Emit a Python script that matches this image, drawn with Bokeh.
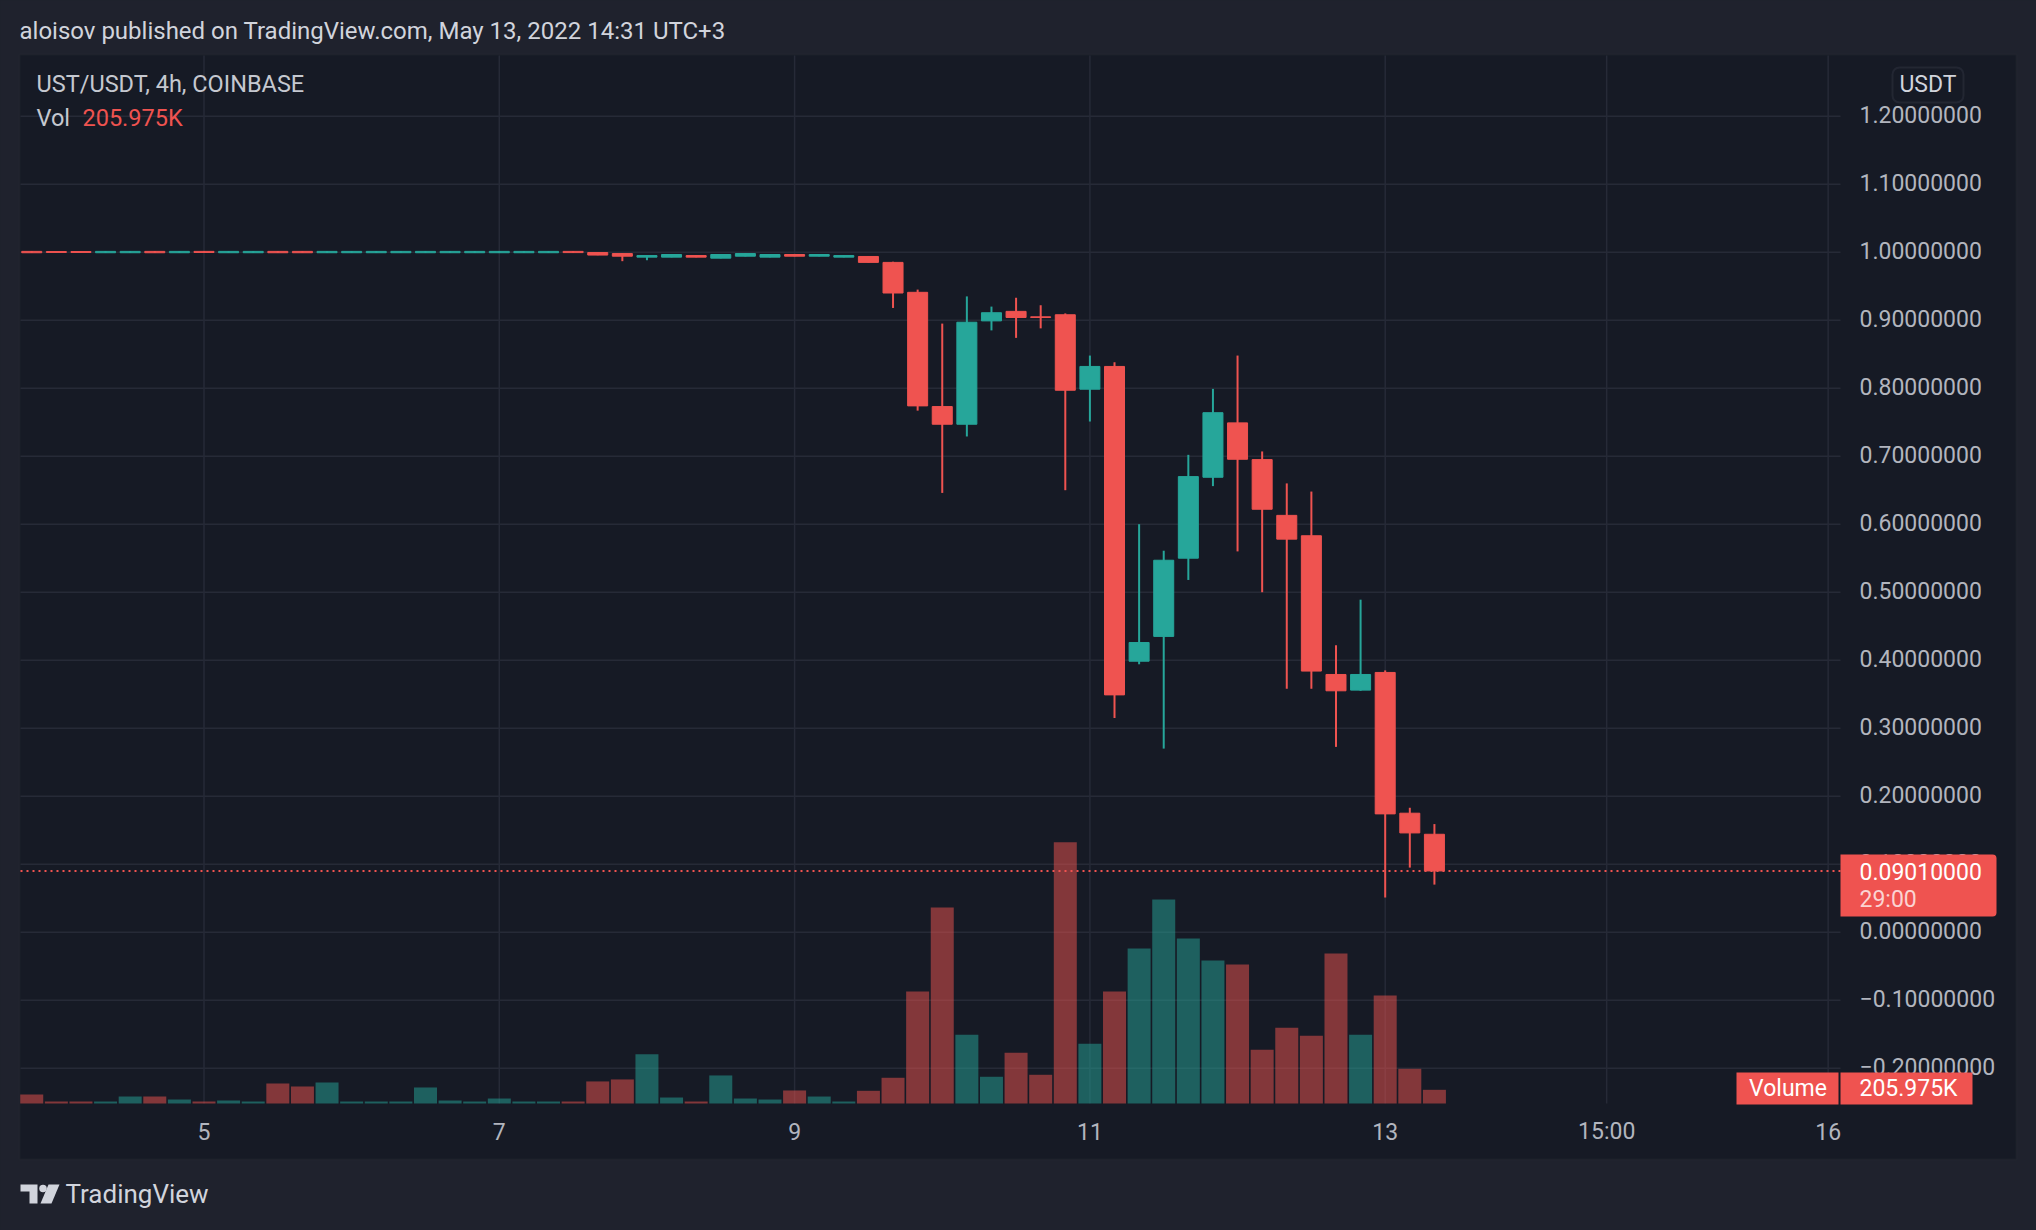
import pandas as pd
from bokeh.plotting import figure
from bokeh.core.properties import value
from bokeh.models import (ColumnDataSource, Range1d, Label, BoxAnnotation,
                          GlobalInlineStyleSheet)
from bokeh.embed import file_html
from bokeh.resources import INLINE

# ---------------- data (UST/USDT 4h, COINBASE) ----------------
start_time = "2022-05-03 20:00"

open_ = [1.0012, 1.0010, 1.0010, 0.9992, 0.9992, 1.0012, 0.9992, 1.0012, 0.9992, 0.9992,
         1.0012, 1.0012, 0.9992, 0.9992, 0.9992, 0.9992, 0.9992, 0.9992, 0.9992, 0.9992,
         0.9992, 0.9992, 1.0012, 0.9995, 0.9980, 0.9927, 0.9927, 0.9951, 0.9912, 0.9941,
         0.9927, 0.9966, 0.9941, 0.9927, 0.9937, 0.9850, 0.9410, 0.7730, 0.7470, 0.8990,
         0.9130, 0.9050, 0.9080, 0.7985, 0.8320, 0.3985, 0.4350, 0.5500, 0.6690, 0.7490,
         0.6950, 0.6130, 0.5830, 0.3790, 0.3560, 0.3820, 0.1750, 0.1440]
high = [1.0018, 1.0012, 1.0012, 1.0016, 1.0016, 1.0016, 1.0016, 1.0014, 1.0016, 1.0016,
        1.0016, 1.0016, 1.0016, 1.0016, 1.0016, 1.0016, 1.0016, 1.0016, 1.0016, 1.0016,
        1.0016, 1.0016, 1.0016, 0.9996, 0.9981, 0.9953, 0.9968, 0.9953, 0.9968, 0.9985,
        0.9970, 0.9968, 0.9968, 0.9953, 0.9940, 0.9860, 0.9450, 0.8950, 0.9350, 0.9200,
        0.9330, 0.9220, 0.9100, 0.8480, 0.8380, 0.6000, 0.5610, 0.7020, 0.7990, 0.8480,
        0.7070, 0.6600, 0.6480, 0.4220, 0.4890, 0.3850, 0.1830, 0.1590]
low = [0.9990, 0.9995, 0.9995, 0.9988, 0.9988, 0.9988, 0.9988, 0.9994, 0.9988, 0.9988,
       0.9988, 0.9988, 0.9988, 0.9988, 0.9988, 0.9988, 0.9988, 0.9988, 0.9988, 0.9988,
       0.9988, 0.9988, 0.9990, 0.9956, 0.9868, 0.9882, 0.9925, 0.9925, 0.9910, 0.9938,
       0.9925, 0.9939, 0.9939, 0.9925, 0.9848, 0.9180, 0.7670, 0.6460, 0.7290, 0.8850,
       0.8740, 0.8880, 0.6500, 0.7510, 0.3150, 0.3940, 0.2700, 0.5180, 0.6560, 0.5600,
       0.5000, 0.3580, 0.3580, 0.2725, 0.3550, 0.0510, 0.0950, 0.0700]
close = [0.9992, 0.9996, 0.9996, 1.0012, 1.0012, 0.9992, 1.0012, 0.9996, 1.0012, 1.0012,
         0.9992, 0.9992, 1.0012, 1.0012, 1.0012, 1.0012, 1.0012, 1.0012, 1.0012, 1.0012,
         1.0012, 1.0012, 0.9994, 0.9958, 0.9941, 0.9951, 0.9966, 0.9927, 0.9966, 0.9980,
         0.9966, 0.9941, 0.9966, 0.9951, 0.9850, 0.9400, 0.7740, 0.7470, 0.8970, 0.9110,
         0.9040, 0.9040, 0.7970, 0.8320, 0.3490, 0.4260, 0.5470, 0.6700, 0.7640, 0.6955,
         0.6220, 0.5780, 0.3840, 0.3550, 0.3790, 0.1740, 0.1460, 0.0901]
volume_k = [136, 30, 30, 30, 105, 105, 60, 30, 45, 30,
            301, 256, 316, 30, 30, 30, 241, 45, 30, 75,
            30, 30, 30, 332, 362, 739, 90, 30, 422, 75,
            60, 196, 105, 30, 191, 387, 1683, 2949, 1035, 402,
            764, 432, 3929, 899, 1683, 2331, 3070, 2482, 2150, 2090,
            809, 1140, 1020, 2256, 1035, 1623, 522, 205.975]

day_ticks = [5, 7, 9, 11, 13, 14.5, 16]
day_labels = ["5", "7", "9", "11", "13", "15:00", "16"]
price_ticks = [1.2, 1.1, 1.0, 0.9, 0.8, 0.7, 0.6, 0.5, 0.4, 0.3, 0.2, 0.1, 0.0, -0.1, -0.2]
price_labels = [f"{v:.8f}".replace("-", "\u2212") for v in price_ticks]

title_text = "aloisov published on TradingView.com, May 13, 2022 14:31 UTC+3"
legend_text = "UST/USDT, 4h, COINBASE"
last_price_label = "0.09010000"
countdown_label = "29:00"
volume_label = "205.975K"
currency = "USDT"

# ---------------- style / layout ----------------
OUTER = "#1f222d"
PANE = "#161a25"
GRID = "#262a37"
BORDER = "#2a2e39"
UP = "#26a69a"
DOWN = "#ef5350"
TXT = "#d1d4dc"
AXT = "#b2b5be"
FONT = "Roboto"

W, H = 2036, 1230
PL, PR, PT, PB = 20, 1840, 55, 1103          # plotting area (px)
DAY5_PX, PX_PER_DAY = 203.5, 147.65           # time scale
ZERO_PX, PX_PER_UNIT = 931.7, 680.0           # price scale
VOL_PER_PX = 15.04                            # volume scale (K per px)


def dx(px):
    return 5 + (px - DAY5_PX) / PX_PER_DAY


def dy(py):
    return (ZERO_PX - py) / PX_PER_UNIT


times = pd.date_range(start_time, periods=len(close), freq="4h")
xday = list(times.day + times.hour / 24.0)
colors = [UP if c >= o else DOWN for o, c in zip(open_, close)]

src = ColumnDataSource(dict(
    x=xday, open=open_, high=high, low=low, close=close,
    top=[max(o, c) for o, c in zip(open_, close)],
    bottom=[min(o, c) for o, c in zip(open_, close)],
    vol=volume_k, color=colors,
))

p = figure(width=W, height=H, x_range=Range1d(dx(0), dx(W)), y_range=Range1d(dy(H), dy(0)),
           x_axis_type=None, y_axis_type=None, output_backend="svg", toolbar_location=None,
           min_border=0, min_border_left=0, min_border_right=0, min_border_top=0,
           min_border_bottom=0, background_fill_color=OUTER, border_fill_color=OUTER,
           outline_line_color=None)
p.stylesheets = [GlobalInlineStyleSheet(
    css="html, body { margin: 0 !important; padding: 0 !important; background: #1f222d; overflow: hidden; }")]
p.extra_y_ranges = {"vol": Range1d(-(H - PB) * VOL_PER_PX, PB * VOL_PER_PX)}

# chart pane
p.add_layout(BoxAnnotation(left=dx(19), right=dx(2016), top=dy(54), bottom=dy(1159),
                           fill_color=PANE, fill_alpha=1, line_color=BORDER,
                           line_width=2, level="underlay"))

# grid
p.segment(x0=dx(PL), x1=dx(PR), y0=price_ticks, y1=price_ticks,
          line_color=GRID, line_width=1.5)
p.segment(x0=day_ticks, x1=day_ticks, y0=dy(PT), y1=dy(PB),
          line_color=GRID, line_width=1.5)

# price scale labels
p.text(x=dx(1859), y=price_ticks, text=price_labels, text_font=value(FONT),
       text_font_size="23px", text_color=AXT, text_align="left", text_baseline="middle",
       y_offset=-1.3)
# time scale labels
p.text(x=day_ticks, y=dy(1130.5), text=day_labels, text_font=value(FONT),
       text_font_size="23px", text_color=AXT, text_align="center", text_baseline="middle")

# volume
p.vbar(x="x", width=0.1558, top="vol", bottom=0, source=src, y_range_name="vol",
       fill_color="color", fill_alpha=0.5, line_color=None)

# candles
p.segment(x0="x", y0="low", x1="x", y1="high", source=src, line_color="color", line_width=2)
p.vbar(x="x", width=0.1355, top="top", bottom="bottom", source=src,
       fill_color="color", line_color="color", line_width=1)

# last price line
p.segment(x0=dx(PL), x1=dx(PR), y0=close[-1], y1=close[-1], line_color=DOWN,
          line_width=2, line_dash="2 4")


def label(px, py, text, size="23px", color=TXT, align="left", alpha=1.0):
    p.add_layout(Label(x=dx(px), y=dy(py), text=text, text_font=FONT, text_font_size=size,
                       text_color=color, text_alpha=alpha, text_align=align,
                       text_baseline="middle"))


# header texts
label(19, 30, title_text, size="24px")
label(36, 83.5, legend_text, size="23.5px", color="#c5c8d0")
label(36, 117.5, "Vol", size="23.5px", color="#c5c8d0")
label(82, 117.5, volume_label, size="23.5px", color=DOWN)

# currency badge
p.add_layout(BoxAnnotation(left=dx(1892), right=dx(1963), top=dy(67), bottom=dy(102),
                           fill_color=PANE, fill_alpha=1, line_color="#434754",
                           line_width=2, border_radius=7))
label(1927.5, 84, currency, align="center")

# last price badge
p.add_layout(BoxAnnotation(left=dx(1840), right=dx(1996), top=dy(854), bottom=dy(916),
                           fill_color=DOWN, fill_alpha=1, line_color=None,
                           border_radius=(0, 4, 4, 0)))
label(1859, 871, last_price_label, color="#ffffff")
label(1859, 899, countdown_label, color="#ffffff", alpha=0.75)

# volume badges
p.add_layout(BoxAnnotation(left=dx(1736), right=dx(1838), top=dy(1072), bottom=dy(1104),
                           fill_color=DOWN, fill_alpha=1, line_color=None))
p.add_layout(BoxAnnotation(left=dx(1840), right=dx(1972), top=dy(1072), bottom=dy(1104),
                           fill_color=DOWN, fill_alpha=1, line_color=None))
label(1787.5, 1088, "Volume", color="#ffffff", align="center")
label(1859, 1088, volume_label, color="#ffffff")

# TradingView logo
p.patches(xs=[[dx(20), dx(37), dx(37), dx(29), dx(29), dx(20)],
              [dx(48), dx(59), dx(51), dx(40)]],
          ys=[[dy(1184), dy(1184), dy(1203), dy(1203), dy(1191), dy(1191)],
              [dy(1184), dy(1184), dy(1203), dy(1203)]],
          fill_color=TXT, line_color=None)
p.scatter(x=[dx(42.5)], y=[dy(1188)], size=7.5, marker="circle", fill_color=TXT, line_color=None)
label(65, 1193.5, "TradingView", size="26px")

open("out.html", "w").write(file_html(p, INLINE))
